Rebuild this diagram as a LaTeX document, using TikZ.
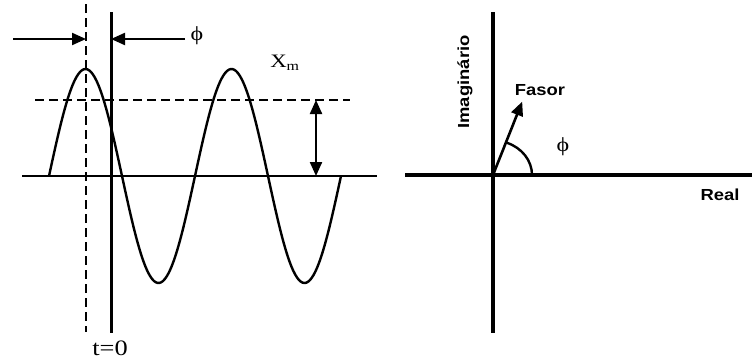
\documentclass[tikz,border=0pt]{standalone}
\usepackage{fontspec}
\setmainfont{Liberation Serif}
\setsansfont{Liberation Sans}
\usepackage{tikz}
\usetikzlibrary{
  arrows.meta,%
  calc
}
\tikzset{>={Triangle[length=14pt, width=12pt]}}
\tikzset{wave/.style={line width=2.4pt}}
\tikzset{dashline/.style={line width=2.8pt, dash pattern=on 9pt off 5pt}}
\tikzset{serif label/.style={inner sep=0pt, xscale=1.2}}
\tikzset{axis label/.style={inner sep=0pt, xscale=1.15,
    font=\sffamily\bfseries\fontsize{16}{16}\selectfont}}

\begin{document}
\begin{tikzpicture}[x=1pt, y=1pt]
      \useasboundingbox (0, 0) rectangle (752, 360);
      % time domain
      \draw[line width=2pt] (22, 184) -- (377, 184); %
      \draw[dashline] (86, 356) -- (86, 28); %
      \draw[line width=3pt] (111, 348) -- (111, 27); %
      \draw[wave] plot[domain=49:341, samples=160, smooth] (\x, {184 + 107*sin(2.46575*(\x-49))}); %
      \draw[dashline] (35, 260) -- (350, 260); %
      \draw[line width=2.2pt, <->] (316, 260) -- (316, 184); %
      \draw[line width=2.2pt, ->] (13, 321) -- (86, 321); %
      \draw[line width=2.2pt, ->] (185, 321) -- (111, 321); %
      \node[serif label, font=\fontsize{20}{20}\selectfont] (phil) at (197, 324) {ϕ};
      \node[serif label, font=\fontsize{19}{19}\selectfont] (xm) at (285, 297) {X\textsubscript{m}};
      \node[serif label, font=\fontsize{22}{22}\selectfont] (tzero) at (110, 12) {t=0};
      % phasor plane
      \coordinate (O) at (493, 185);
      \draw[line width=3.2pt] (405, 185) -- (752, 185); %
      \draw[line width=3.4pt] (493, 348) -- (493, 27); %
      \draw[line width=2.6pt, ->] (O) -- ++(68.3:79) coordinate (tip); %
      \draw[line width=2.4pt] (532, 185) arc[start angle=0, end angle=69.5, x radius=39, y radius=34.5]; %
      \node[serif label, font=\fontsize{20}{20}\selectfont] (phir) at (563, 213) {ϕ};
      \node[axis label] (fasor) at (540, 270) {Fasor};
      \node[rotate=90, axis label] (imag) at (465, 278) {Imaginário};
      \node[axis label] (real) at (720, 165) {Real};
    \end{tikzpicture}
\end{document}
